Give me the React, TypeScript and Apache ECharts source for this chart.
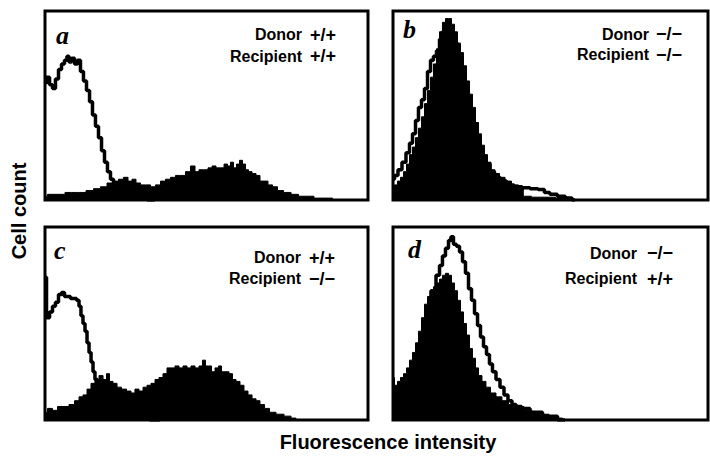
import React, { useEffect, useRef } from "react";
import * as echarts from "echarts";

// Fluorescence channel (0–256) vs relative cell count (% of panel height)
const panelLetters = ["a", "b", "c", "d"];
const donorGenotypes = ["+/+", "\u2212/\u2212", "+/+", "\u2212/\u2212"];
const recipientGenotypes = ["+/+", "\u2212/\u2212", "\u2212/\u2212", "+/+"];
const xAxisTitle = "Fluorescence intensity";
const yAxisTitle = "Cell count";

const panelAOpen = [
  [0, 62], [2.4, 65], [4.8, 61], [7.1, 59], [9.5, 64], [11.9, 69], [14.3, 72], [16.6, 74],
  [18.2, 76], [19.8, 73], [22.2, 75], [24.6, 72], [26.9, 74], [29.3, 68], [31.7, 63],
  [34.1, 58], [36.5, 52], [38.8, 45], [41.2, 39], [43.6, 33], [46, 26], [48.3, 20],
  [50.7, 15], [53.1, 11], [55.5, 7], [58.7, 5], [62.6, 3], [67.4, 2], [75.3, 1], [87, 0],
];
const panelAFilled = [
  [0, 2], [4, 3], [8.7, 3], [13.5, 3], [18.2, 4], [23.8, 4], [29.3, 4], [35.7, 5], [41.2, 6],
  [46.8, 7], [51.5, 9], [56.3, 10], [60.2, 11], [64.2, 12], [67.4, 10], [70.5, 11], [73.7, 9],
  [77.7, 8], [81.6, 8], [85.6, 7], [89.6, 8], [93.5, 10], [97.5, 11], [101.5, 12], [105.4, 13],
  [109.4, 13], [113.3, 15], [117.3, 18], [120.5, 15], [123.6, 16], [127.6, 16], [130.8, 17],
  [134, 18], [137.1, 17], [140.3, 17], [143.5, 19], [145.8, 18], [148.2, 20], [150.6, 17],
  [153, 19], [155.3, 21], [157.7, 19], [160.1, 16], [162.5, 15], [165.7, 14], [168.8, 13],
  [172, 10], [175.2, 10], [178.3, 8], [182.3, 7], [186.3, 5], [191.8, 4], [198.2, 3],
  [203.7, 2], [210, 2], [216.4, 1], [225.9, 1], [230, 0],
];

const panelBOpen = [
  [0, 11], [2.4, 13], [5.7, 16], [8.9, 20], [12.2, 25], [14.6, 30], [17.1, 35], [19.5, 42],
  [21.9, 49], [24.4, 53], [26.8, 59], [29.3, 68], [31.7, 74], [34.1, 76], [36.6, 79], [39, 85],
  [41.4, 89], [43.9, 91], [46.3, 90], [48.8, 87], [51.2, 83], [53.6, 77], [56.1, 70],
  [58.5, 62], [61, 55], [63.4, 48], [65.8, 40], [68.3, 34], [70.7, 28], [73.9, 23], [77.2, 19],
  [80.5, 15], [84.5, 12], [89.4, 10], [95.1, 8], [101.6, 7], [108.1, 6.5], [114.6, 6],
  [121.1, 5.5], [125, 4], [130, 3], [137, 2], [143, 1], [148, 0],
];
const panelBFilled = [
  [0, 7], [2.4, 8], [4.9, 10], [7.3, 12], [9.8, 15], [12.2, 19], [14.6, 24], [17.1, 28],
  [19.5, 33], [21.9, 38], [24.4, 44], [26.8, 51], [29.3, 58], [31.7, 65], [34.1, 72],
  [36.6, 80], [39, 89], [41.4, 94], [43.9, 96], [46.3, 96], [48.8, 93], [51.2, 89], [53.6, 83],
  [56.1, 78], [58.5, 71], [61, 63], [63.4, 56], [65.8, 49], [68.3, 41], [70.7, 35], [73.1, 29],
  [75.6, 24], [78, 20], [81.3, 16], [84.5, 14], [88.6, 12], [93.5, 10], [99.1, 8],
  [104.8, 6], [107, 2], [118, 1.5], [128, 1.5], [136, 1], [143, 0],
];

const panelCOpen = [
  [0, 74], [2.4, 53], [4.8, 56], [7.1, 59], [9.5, 61], [11.9, 65], [14.3, 66], [16.6, 64],
  [19, 64], [21.4, 63], [23.8, 63], [26.2, 62], [27.7, 59], [29.3, 54], [30.9, 50], [32.5, 46],
  [34.1, 40], [35.7, 35], [37.3, 30], [38.8, 25], [40.4, 21], [42.8, 18], [46, 15], [49.9, 11],
  [55.5, 8], [63.4, 4], [75.3, 2], [91, 0],
];
const panelCFilled = [
  [0, 4], [4, 6], [7.9, 5], [11.9, 7], [16.6, 7], [21.4, 8], [25.4, 10], [28.5, 12], [31.7, 13],
  [34.9, 16], [38, 19], [41.2, 21], [44.4, 23], [47.6, 21], [49.9, 24], [52.3, 20], [55.5, 19],
  [58.7, 17], [62.6, 16], [66.6, 15], [69.7, 14], [72.9, 16], [76.1, 15], [79.3, 17],
  [82.4, 18], [85.6, 19], [88.8, 21], [91.9, 22], [95.1, 24], [98.3, 27], [101.5, 27],
  [104.6, 28], [107.8, 27], [111, 28], [114.1, 27], [117.3, 28], [120.5, 27], [123.6, 28],
  [126, 31], [128.4, 28], [130.8, 28], [133.2, 25], [136.3, 27], [138.7, 28], [141.1, 25],
  [144.3, 25], [147.4, 24], [149.8, 21], [153, 20], [156.1, 18], [159.3, 15], [162.5, 13],
  [165.7, 11], [168.8, 10], [172, 8], [176, 6], [179.9, 4], [186.3, 3], [192.6, 2],
  [197.4, 1], [200.5, 0],
];

const panelDOpen = [
  [0, 10], [5.7, 13], [13.8, 21], [21.9, 34], [28.4, 52], [33.3, 67], [36.6, 75], [39, 80],
  [41.4, 85], [43.9, 89], [46.3, 93], [47.9, 95], [50.4, 91], [52.8, 90], [55.3, 87],
  [57.7, 82], [60.1, 76], [62.6, 68], [65, 62], [67.5, 55], [69.9, 49], [72.3, 43], [74.8, 38],
  [77.2, 34], [79.6, 29], [82.1, 25], [85.3, 21], [88.6, 17], [91.8, 13], [95.1, 10],
  [98.3, 8], [101.6, 7], [107.3, 6], [115.4, 4], [127.6, 2], [139.8, 0],
];
const panelDFilled = [
  [0, 22], [2.4, 18], [4.9, 20], [7.3, 22], [9.8, 24], [12.2, 27], [14.6, 31], [17.1, 35],
  [19.5, 40], [21.9, 46], [24.4, 53], [26.8, 60], [29.3, 64], [31.7, 67], [34.1, 69],
  [36.6, 71], [39, 73], [41.4, 75], [43.9, 76], [46.3, 75], [48.8, 71], [51.2, 67], [53.6, 62],
  [56.1, 56], [58.5, 50], [61, 44], [63.4, 37], [65.8, 32], [68.3, 27], [70.7, 23], [73.9, 20],
  [77.2, 17], [81.3, 14], [86.1, 12], [91, 10], [96.7, 8], [103.2, 7], [109.7, 5], [116.2, 4],
  [123.5, 3], [130, 2], [135.7, 1], [139.8, 0],
];

const openData = [panelAOpen, panelBOpen, panelCOpen, panelDOpen];
const filledData = [panelAFilled, panelBFilled, panelCFilled, panelDFilled];

const GRIDS = [
  { left: 45, top: 11, width: 323, height: 189 },
  { left: 393, top: 11, width: 315, height: 189 },
  { left: 45, top: 227, width: 323, height: 193 },
  { left: 393, top: 227, width: 315, height: 193 },
];

// label layout per panel: letter pos, word right edge, genotype left, donor/recipient row centers
const LABELS = [
  { lx: 56, ly: 35, wr: 302, gl: 310, dy: 34.5, ry: 56 },
  { lx: 403, ly: 29, wr: 649, gl: 656, dy: 34, ry: 54.5 },
  { lx: 54, ly: 250, wr: 301, gl: 309, dy: 257.5, ry: 278.5 },
  { lx: 408, ly: 249, wr: 637, gl: 647, dy: 253, ry: 278.5 },
];

const SANS = '"Liberation Sans", Arial, Helvetica, sans-serif';
const SERIF = '"Liberation Serif", "Times New Roman", serif';

export default function App() {
  const ref = useRef<HTMLDivElement>(null);
  useEffect(() => {
    if (!ref.current) return;
    const chart = echarts.init(ref.current, undefined, { renderer: "svg" });

    const grid = GRIDS.map((g) => ({
      ...g,
      show: true,
      borderColor: "#000",
      borderWidth: 3,
      backgroundColor: "transparent",
      containLabel: false,
    }));
    const xAxis = GRIDS.map((_, i) => ({
      type: "value",
      gridIndex: i,
      min: 0,
      max: 256,
      show: false,
    }));
    const yAxis = GRIDS.map((_, i) => ({
      type: "value",
      gridIndex: i,
      min: 0,
      max: 100,
      show: false,
    }));
    const series: any[] = [];
    GRIDS.forEach((_, i) => {
      series.push({
        type: "line",
        xAxisIndex: i,
        yAxisIndex: i,
        data: filledData[i],
        step: "middle",
        showSymbol: false,
        symbol: "none",
        lineStyle: { color: "#000", width: 1 },
        areaStyle: { color: "#000", opacity: 1 },
        silent: true,
      });
      series.push({
        type: "line",
        xAxisIndex: i,
        yAxisIndex: i,
        data: openData[i],
        step: "middle",
        showSymbol: false,
        symbol: "none",
        lineStyle: { color: "#000", width: 3.5 },
        silent: true,
      });
    });

    const graphic: any[] = [];
    LABELS.forEach((L, i) => {
      graphic.push({
        type: "text",
        style: {
          text: panelLetters[i],
          x: L.lx,
          y: L.ly,
          textAlign: "left",
          textVerticalAlign: "middle",
          font: `italic bold 26px ${SERIF}`,
          fill: "#000",
        },
      });
      const rows = [
        { word: "Donor", geno: donorGenotypes[i], y: L.dy },
        { word: "Recipient", geno: recipientGenotypes[i], y: L.ry },
      ];
      rows.forEach((r) => {
        graphic.push({
          type: "text",
          style: {
            text: r.word,
            x: L.wr,
            y: r.y,
            textAlign: "right",
            textVerticalAlign: "middle",
            font: `bold 16px ${SANS}`,
            fill: "#000",
          },
        });
        graphic.push({
          type: "text",
          style: {
            text: r.geno,
            x: L.gl,
            y: r.y,
            textAlign: "left",
            textVerticalAlign: "middle",
            font: `bold 18px ${SANS}`,
            fill: "#000",
          },
        });
      });
    });
    graphic.push({
      type: "text",
      style: {
        text: xAxisTitle,
        x: 388,
        y: 442,
        textAlign: "center",
        textVerticalAlign: "middle",
        font: `bold 20px ${SANS}`,
        fill: "#000",
      },
    });
    graphic.push({
      type: "text",
      x: 19,
      y: 211,
      rotation: Math.PI / 2,
      style: {
        text: yAxisTitle,
        x: 0,
        y: 0,
        textAlign: "center",
        textVerticalAlign: "middle",
        font: `bold 20px ${SANS}`,
        fill: "#000",
      },
    });

    chart.setOption({
      animation: false,
      backgroundColor: "#fff",
      grid,
      xAxis,
      yAxis,
      series,
      graphic,
    });
    return () => chart.dispose();
  }, []);
  return (
    <div
      ref={ref}
      style={{ position: "fixed", left: 0, top: 0, width: 710, height: 460, background: "#fff" }}
    />
  );
}
